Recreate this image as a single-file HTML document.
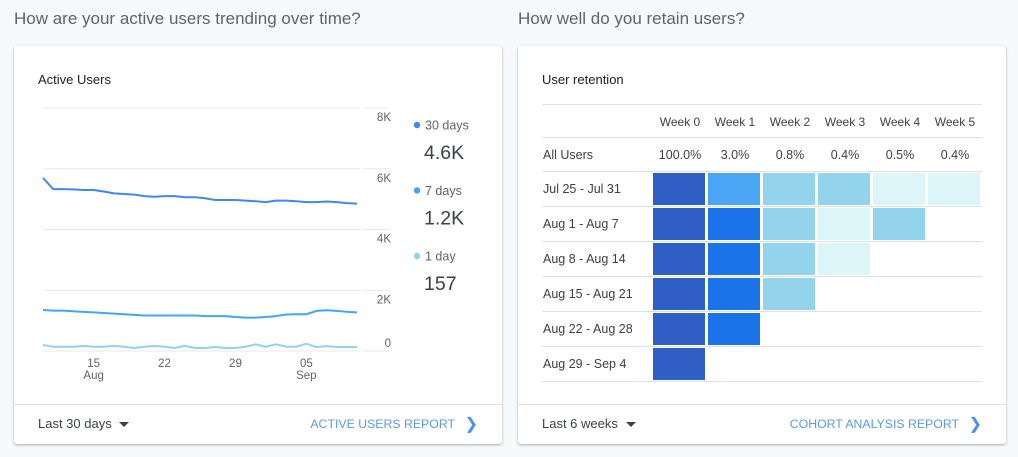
<!DOCTYPE html>
<html><head><meta charset="utf-8"><style>
body{margin:0;width:1018px;height:457px;background:#f8f9fa;font-family:"Liberation Sans",Arial,sans-serif;position:relative;overflow:hidden}
.q{position:absolute;top:9px;font-size:17px;color:#5f6368}
.card{position:absolute;top:46px;width:488px;height:398px;background:#fff;border-radius:3px;box-shadow:0 1px 2px rgba(60,64,67,.3),0 1px 3px rgba(60,64,67,.15)}
.ct{position:absolute;left:24px;top:26px;font-size:13px;color:#202124}
.foot{position:absolute;left:0;right:0;top:358px;border-top:1px solid #e0e0e0;height:40px}
.sel{position:absolute;left:24px;top:11px;font-size:13px;color:#3c4043}
.sel span{display:inline-block;width:0;height:0;border-left:5px solid transparent;border-right:5px solid transparent;border-top:5px solid #3c4043;vertical-align:middle;margin-left:4px}
.link{position:absolute;right:47px;top:12px;font-size:12.3px;color:#5b9ae6}
.chev{position:absolute;right:24px;top:9px;font-size:16px;color:#4a8ff0}
svg text{font-family:"Liberation Sans",Arial,sans-serif}
</style></head><body>
<div class="q" style="left:14px">How are your active users trending over time?</div>
<div class="q" style="left:518px">How well do you retain users?</div>

<div class="card" style="left:14px">
<div class="ct">Active Users</div>
<div class="foot">
<div class="sel">Last 30 days <span></span></div>
<div class="link">ACTIVE USERS REPORT</div>
<div class="chev">&#10095;</div>
</div>
</div>
<div class="card" style="left:518px">
<div class="ct">User retention</div>
<div class="foot">
<div class="sel">Last 6 weeks <span></span></div>
<div class="link">COHORT ANALYSIS REPORT</div>
<div class="chev">&#10095;</div>
</div>
</div>

<svg id="line" width="1018" height="457" style="position:absolute;left:0;top:0"></svg>
<svg id="heat" width="1018" height="457" style="position:absolute;left:0;top:0"></svg>

<script>
const yTicks=[0,2000,4000,6000,8000];
const yTickLabels=["0","2K","4K","6K","8K"];
const xTickDays=[5,12,19,26];
const xTickLabels=["15","22","29","05"];
const xTickMonths=["Aug","","","Sep"];
const series30=[5700,5330,5330,5320,5300,5300,5250,5190,5170,5150,5100,5080,5100,5100,5060,5060,5030,4970,4970,4970,4950,4930,4900,4950,4950,4930,4900,4900,4920,4900,4870,4850];
const series7=[1350,1330,1330,1310,1290,1270,1250,1230,1210,1190,1170,1170,1170,1170,1170,1170,1150,1150,1150,1120,1100,1100,1120,1150,1200,1210,1210,1320,1340,1320,1290,1270];
const series1=[200,140,140,140,170,140,140,170,140,100,140,170,140,100,170,100,100,130,100,100,140,220,140,220,140,140,240,130,160,130,130,130];
const legendNames=["30 days","7 days","1 day"];
const legendValues=["4.6K","1.2K","157"];
const NS="http://www.w3.org/2000/svg";
function mk(svg,tag,a,txt){const e=document.createElementNS(NS,tag);for(const k in a)e.setAttribute(k,a[k]);if(txt!==undefined)e.textContent=txt;svg.appendChild(e);return e;}
const L=document.getElementById('line');
const X0=43,X1=357,Y0=351,Y1=108;
const xs=d=>X0+d*(X1-X0)/31;
const ys=v=>Y0-v/8000*(Y0-Y1);
yTicks.forEach((t,i)=>{
 let g=mk(L,'line',{x1:X0,x2:360,y1:ys(t),y2:ys(t),stroke:'#e8eaed'});
 
 
 let g2=mk(L,'line',{x1:362,x2:390,y1:ys(t),y2:ys(t),stroke:'#e8eaed'});
 
 
 let tl=mk(L,'text',{x:391,y:t===0?ys(t)-4:ys(t)+13,'text-anchor':'end','font-size':11.5,fill:'#5f6368'},yTickLabels[i]);
 
 
});
xTickDays.forEach((d,i)=>{
 let t=mk(L,'text',{x:xs(d),y:367,'text-anchor':'middle','font-size':11.5,fill:'#5f6368'},xTickLabels[i]);
 
 
 if(xTickMonths[i]){let m=mk(L,'text',{x:xs(d),y:379,'text-anchor':'middle','font-size':11.5,fill:'#5f6368'},xTickMonths[i]);
 
 }
});
const cols=['#4285f4','#42a5f5','#8fd3ec'];
[series30,series7,series1].forEach((s,k)=>{
 let p=mk(L,'polyline',{points:s.map((v,i)=>xs(i)+','+ys(v)).join(' '),fill:'none',stroke:cols[k],'stroke-width':2,'stroke-linejoin':'round'});
 
 
 const y=125+k*65.5;
 let c=mk(L,'circle',{cx:417,cy:y,r:3.2,fill:cols[k]});
 
 
 let n=mk(L,'text',{x:425,y:y+4.5,'font-size':12.5,fill:'#5f6368'},legendNames[k]);
 
 
 let v=mk(L,'text',{x:424,y:y+34,'font-size':19.5,fill:'#3c4043'},legendValues[k]);
 
 
});

const weeks=["Week 0","Week 1","Week 2","Week 3","Week 4","Week 5"];
const allUsers=["100.0%","3.0%","0.8%","0.4%","0.5%","0.4%"];
const cohorts=["Jul 25 - Jul 31","Aug 1 - Aug 7","Aug 8 - Aug 14","Aug 15 - Aug 21","Aug 22 - Aug 28","Aug 29 - Sep 4"];
const retention=[[100,2.5,0.8,0.8,0.3,0.3],[100,4.5,0.8,0.3,0.8],[100,4.5,0.8,0.3],[100,4.5,0.8],[100,4.5],[100]];
function color(v){return v>=50?'#2f5ec4':v>=4?'#1a73e8':v>=2?'#4aa5f5':v>=0.5?'#93d4ec':'#dcf5f8';}
const H=document.getElementById('heat');
const CX0=653,CP=55,RY0=171,RP=35;
[104,137,171,206,241,276,311,346,381].forEach(y=>{
 let l=mk(H,'line',{x1:542,x2:982,y1:y+.5,y2:y+.5,stroke:'#e0e0e0'});
 
 
});
weeks.forEach((w,i)=>{
 let t=mk(H,'text',{x:CX0+i*CP+27,y:126,'text-anchor':'middle','font-size':12,fill:'#3c4043'},w);
 
 
 let a=mk(H,'text',{x:CX0+i*CP+27,y:159,'text-anchor':'middle','font-size':12.5,fill:'#3c4043'},allUsers[i]);
 
 
});
let au=mk(H,'text',{x:543,y:159,'font-size':12.5,fill:'#3c4043'},'All Users');


cohorts.forEach((c,r)=>{
 let t=mk(H,'text',{x:543,y:RY0+r*RP+22,'font-size':12.5,fill:'#3c4043'},c);
 
 
 retention[r].forEach((v,i)=>{
  let cell=mk(H,'rect',{x:CX0+i*CP,y:RY0+r*RP+2,width:52,height:32,fill:color(v)});
  
  
 });
});
</script>
</body></html>
